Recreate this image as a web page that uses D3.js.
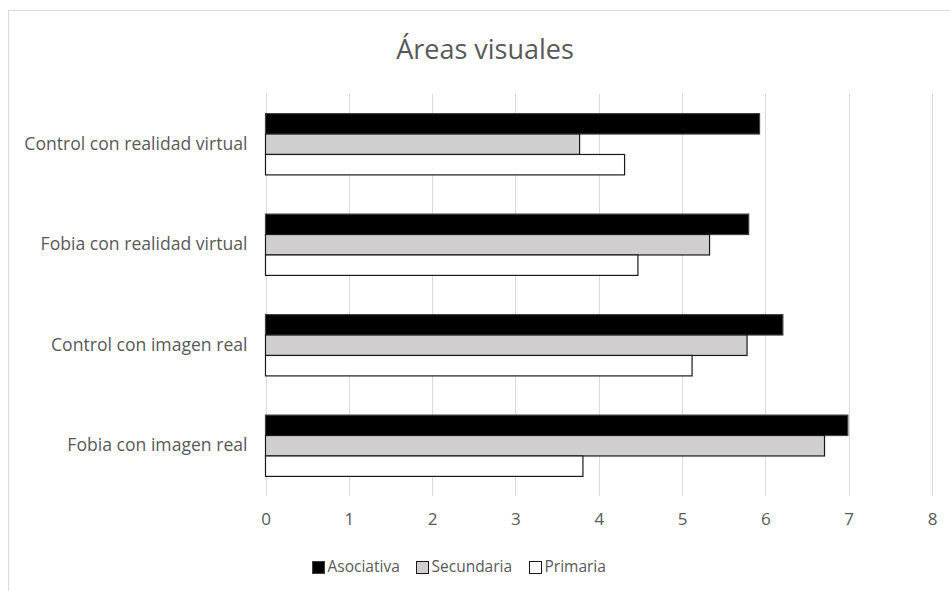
<!DOCTYPE html>
<html>
<head>
<meta charset="utf-8">
<script src="https://cdn.jsdelivr.net/npm/d3@7/dist/d3.min.js"></script>
<style>
  body { margin: 0; background: #fff; }
  svg text { font-family: "Open Sans", "Noto Sans", sans-serif; fill: #595959; }
</style>
</head>
<body>
<div id="chart"></div>
<script>
// data
const categories = ['Control con realidad virtual', 'Fobia con realidad virtual', 'Control con imagen real', 'Fobia con imagen real'];
const seriesNames = ['Asociativa', 'Secundaria', 'Primaria'];
const asociativa = [5.93, 5.80, 6.21, 6.99];
const secundaria = [3.77, 5.33, 5.78, 6.71];
const primaria = [4.31, 4.47, 5.12, 3.81];
const xTicks = [0, 1, 2, 3, 4, 5, 6, 7, 8];

const seriesValues = [asociativa, secundaria, primaria];
const fills = ['#000000', '#d0cece', '#ffffff'];
const strokes = ['#404040', '#1a1a1a', '#1a1a1a'];

const width = 950, height = 591;
const plot = { left: 265.5, right: 932, top: 94, bottom: 496 };

const svg = d3.select('#chart')
    .append('svg')
    .attr('width', width)
    .attr('height', height);

// chart border
svg.append('rect')
    .attr('x', 8.5).attr('y', 10.5)
    .attr('width', 960).attr('height', 600)
    .attr('fill', 'none')
    .attr('stroke', '#d9d9d9');

// title
svg.append('text')
    .attr('x', 485).attr('y', 59)
    .attr('text-anchor', 'middle')
    .style('font-size', '27px')
    .text('Áreas visuales');

const x = d3.scaleLinear().domain([0, 8]).range([plot.left, plot.right]);

const y = d3.scaleBand()
    .domain(categories)
    .range([plot.top, plot.bottom])
    .paddingInner(0.39)
    .paddingOuter(0.195);

const ySub = d3.scaleBand()
    .domain(seriesNames)
    .range([0, y.bandwidth()]);

// grid lines
svg.append('g')
    .selectAll('line')
    .data(xTicks)
    .enter()
    .append('line')
    .attr('x1', d => Math.round(x(d)) + 0.5)
    .attr('x2', d => Math.round(x(d)) + 0.5)
    .attr('y1', plot.top)
    .attr('y2', plot.bottom)
    .attr('stroke', '#d9d9d9')
    .attr('stroke-width', 1);

// x axis labels
const xAxis = d3.axisBottom(x).tickValues(xTicks).tickSize(0).tickPadding(0);
const xg = svg.append('g')
    .attr('transform', `translate(0,${plot.bottom + 17})`)
    .call(xAxis);
xg.select('.domain').remove();
xg.selectAll('text')
    .style('font-size', '17px')
    .style('font-family', '"Open Sans", sans-serif')
    .attr('fill', '#595959');

// y axis labels
const yAxis = d3.axisLeft(y).tickSize(0).tickPadding(0);
const yg = svg.append('g')
    .attr('transform', `translate(${plot.left - 18},0)`)
    .call(yAxis);
yg.select('.domain').remove();
yg.selectAll('text')
    .style('font-size', '17.6px')
    .style('font-family', '"Open Sans", sans-serif')
    .attr('fill', '#595959');

// bars
const rows = [];
categories.forEach((c, i) => {
    seriesNames.forEach((s, j) => {
        rows.push({ cat: c, series: s, idx: j, value: seriesValues[j][i] });
    });
});

svg.append('g')
    .selectAll('rect')
    .data(rows)
    .enter()
    .append('rect')
    .attr('x', x(0))
    .attr('y', d => y(d.cat) + ySub(d.series))
    .attr('width', d => x(d.value) - x(0))
    .attr('height', ySub.bandwidth())
    .attr('fill', d => fills[d.idx])
    .attr('stroke', d => strokes[d.idx])
    .attr('stroke-width', 1.2);

// legend
const legendX = [312, 416, 529];
const legend = svg.append('g')
    .selectAll('g')
    .data(seriesNames)
    .enter()
    .append('g')
    .attr('transform', (d, i) => `translate(${legendX[i]},567)`);

legend.append('rect')
    .attr('x', 0.5).attr('y', -5.5)
    .attr('width', 12).attr('height', 12)
    .attr('fill', (d, i) => fills[i])
    .attr('stroke', (d, i) => strokes[i]);

legend.append('text')
    .attr('x', 15.5)
    .attr('y', 0)
    .attr('dy', '0.35em')
    .style('font-size', '15.5px')
    .text(d => d);
</script>
</body>
</html>
